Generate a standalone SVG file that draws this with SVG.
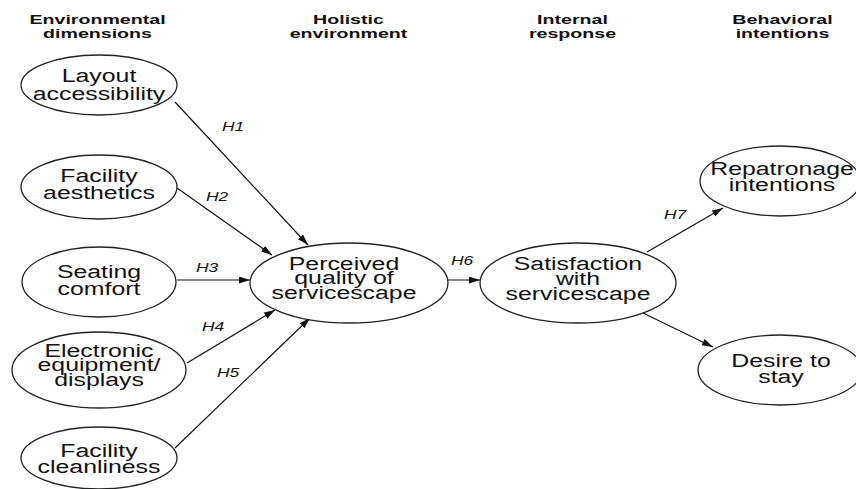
<svg xmlns="http://www.w3.org/2000/svg" width="856" height="489" viewBox="0 0 856 489">
<style>
.node ellipse{fill:#fff;stroke:#222;stroke-width:1.3}
.nt{font-family:"Liberation Sans",Arial,sans-serif;font-size:18px;fill:#111;text-anchor:middle}
.hd{font-family:"Liberation Sans",Arial,sans-serif;font-size:12.5px;font-weight:bold;fill:#111;text-anchor:middle}
.hl{font-family:"Liberation Sans",Arial,sans-serif;font-size:12px;font-style:italic;fill:#111;text-anchor:middle}
.edges line{stroke:#111;stroke-width:1.2;marker-end:url(#ah)}
</style>
<defs>
<marker id="ah" markerUnits="userSpaceOnUse" markerWidth="12" markerHeight="8" refX="11" refY="3.5" orient="auto">
<path d="M0,0 L11,3.5 L0,7 z" fill="#111"/>
</marker>
</defs>
<rect width="856" height="489" fill="#fff"/>
<g id="headers">
<text class="hd" transform="translate(97.5 0) scale(1.57 1)" y="24">Environmental</text>
<text class="hd" transform="translate(97.5 0) scale(1.57 1)" y="38">dimensions</text>
<text class="hd" transform="translate(348.5 0) scale(1.57 1)" y="24">Holistic</text>
<text class="hd" transform="translate(348.5 0) scale(1.57 1)" y="38">environment</text>
<text class="hd" transform="translate(572.5 0) scale(1.57 1)" y="24">Internal</text>
<text class="hd" transform="translate(572.5 0) scale(1.57 1)" y="38">response</text>
<text class="hd" transform="translate(782.5 0) scale(1.57 1)" y="24">Behavioral</text>
<text class="hd" transform="translate(782.5 0) scale(1.57 1)" y="38">intentions</text>
</g>
<g class="edges" id="connectors">
<line x1="175" y1="102" x2="308" y2="245"/>
<line x1="177" y1="188" x2="272" y2="255"/>
<line x1="177" y1="280" x2="250" y2="280"/>
<line x1="187" y1="363" x2="275" y2="310"/>
<line x1="175" y1="448" x2="310" y2="318"/>
<line x1="447" y1="280" x2="480" y2="280"/>
<line x1="647" y1="252" x2="723" y2="208"/>
<line x1="643" y1="313" x2="713" y2="347"/>
<text class="hl" transform="translate(233 0) scale(1.45 1)" y="131">H1</text>
<text class="hl" transform="translate(217 0) scale(1.45 1)" y="201">H2</text>
<text class="hl" transform="translate(207 0) scale(1.45 1)" y="272">H3</text>
<text class="hl" transform="translate(213 0) scale(1.45 1)" y="331">H4</text>
<text class="hl" transform="translate(228 0) scale(1.45 1)" y="377">H5</text>
<text class="hl" transform="translate(462 0) scale(1.45 1)" y="265">H6</text>
<text class="hl" transform="translate(675 0) scale(1.45 1)" y="219">H7</text>
</g>
<g class="node" id="layout">
<ellipse cx="99" cy="85" rx="78" ry="30"/>
<text class="nt" transform="translate(99 0) scale(1.38 1)" y="82">Layout</text>
<text class="nt" transform="translate(99 0) scale(1.38 1)" y="100">accessibility</text>
</g>
<g class="node" id="aesthetics">
<ellipse cx="99" cy="187" rx="78" ry="32"/>
<text class="nt" transform="translate(99 0) scale(1.38 1)" y="182">Facility</text>
<text class="nt" transform="translate(99 0) scale(1.38 1)" y="199">aesthetics</text>
</g>
<g class="node" id="seating">
<ellipse cx="99" cy="282" rx="77" ry="35"/>
<text class="nt" transform="translate(99 0) scale(1.38 1)" y="278">Seating</text>
<text class="nt" transform="translate(99 0) scale(1.38 1)" y="295">comfort</text>
</g>
<g class="node" id="electronic">
<ellipse cx="99" cy="370" rx="87" ry="38"/>
<text class="nt" transform="translate(99 0) scale(1.38 1)" y="357">Electronic</text>
<text class="nt" transform="translate(99 0) scale(1.38 1)" y="371">equipment/</text>
<text class="nt" transform="translate(99 0) scale(1.38 1)" y="386">displays</text>
</g>
<g class="node" id="cleanliness">
<ellipse cx="99" cy="458" rx="78" ry="31"/>
<text class="nt" transform="translate(99 0) scale(1.38 1)" y="457">Facility</text>
<text class="nt" transform="translate(99 0) scale(1.38 1)" y="473">cleanliness</text>
</g>
<g class="node" id="perceived">
<ellipse cx="349" cy="283" rx="99" ry="40"/>
<text class="nt" transform="translate(344 0) scale(1.38 1)" y="270">Perceived</text>
<text class="nt" transform="translate(344 0) scale(1.38 1)" y="284.5">quality of</text>
<text class="nt" transform="translate(344 0) scale(1.38 1)" y="299">servicescape</text>
</g>
<g class="node" id="satisfaction">
<ellipse cx="578" cy="283" rx="98" ry="40"/>
<text class="nt" transform="translate(578 0) scale(1.38 1)" y="270">Satisfaction</text>
<text class="nt" transform="translate(578 0) scale(1.38 1)" y="285">with</text>
<text class="nt" transform="translate(578 0) scale(1.38 1)" y="300">servicescape</text>
</g>
<g class="node" id="repatronage">
<ellipse cx="780" cy="181" rx="80" ry="35"/>
<text class="nt" transform="translate(782 0) scale(1.38 1)" y="175">Repatronage</text>
<text class="nt" transform="translate(782 0) scale(1.38 1)" y="191">intentions</text>
</g>
<g class="node" id="desire">
<ellipse cx="780" cy="370" rx="82" ry="35"/>
<text class="nt" transform="translate(781 0) scale(1.38 1)" y="367">Desire to</text>
<text class="nt" transform="translate(781 0) scale(1.38 1)" y="383">stay</text>
</g>
</svg>
